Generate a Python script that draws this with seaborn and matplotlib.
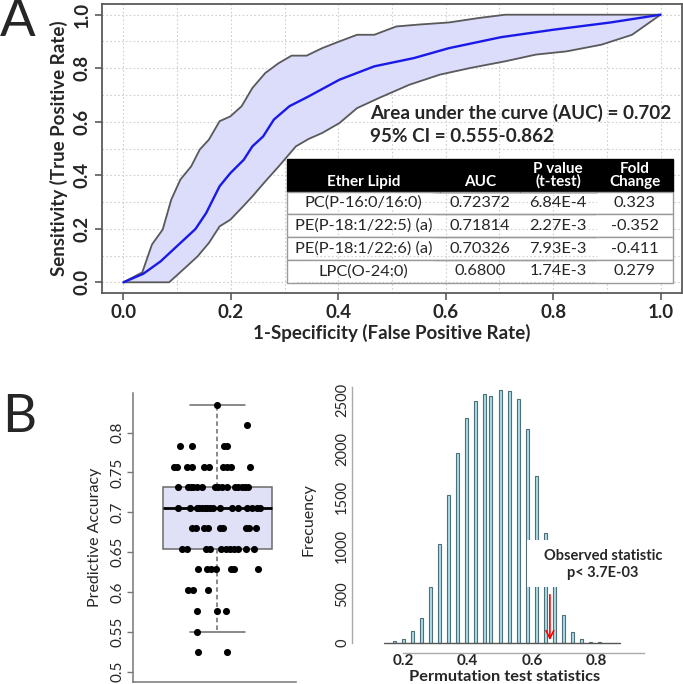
"""Figura ROC + boxplot de acurácia + histograma do teste de permutação."""
import matplotlib
matplotlib.use("Agg")
import matplotlib.pyplot as plt
from matplotlib.patches import Rectangle
import numpy as np
import seaborn as sns

# --- A: curva ROC média e intervalo de confiança ---
roc_fpr = [0, 0.037, 0.069, 0.106, 0.134, 0.154, 0.179, 0.199, 0.224, 0.240, 0.260,
           0.280, 0.309, 0.345, 0.402, 0.467, 0.541, 0.606, 0.703, 0.801, 0.907, 1.0]
roc_tpr = [0, 0.032, 0.078, 0.147, 0.199, 0.259, 0.359, 0.408, 0.458, 0.508, 0.545,
           0.608, 0.658, 0.695, 0.757, 0.807, 0.838, 0.875, 0.916, 0.944, 0.971, 1.0]
ci_hi_fpr = [0, 0.035, 0.053, 0.073, 0.089, 0.106, 0.126, 0.142, 0.159, 0.179, 0.199,
             0.220, 0.240, 0.264, 0.289, 0.313, 0.341, 0.370, 0.402, 0.435, 0.467,
             0.508, 0.549, 0.606, 0.663, 0.711, 1.0]
ci_hi_tpr = [0, 0.037, 0.141, 0.197, 0.309, 0.384, 0.433, 0.496, 0.533, 0.602, 0.620,
             0.658, 0.726, 0.782, 0.819, 0.847, 0.847, 0.875, 0.900, 0.925, 0.925,
             0.956, 0.963, 0.971, 0.988, 1.0, 1.0]
ci_lo_fpr = [0, 0.085, 0.118, 0.138, 0.159, 0.179, 0.199, 0.220, 0.240, 0.264, 0.289,
             0.321, 0.345, 0.370, 0.402, 0.435, 0.476, 0.532, 0.589, 0.646, 0.711,
             0.768, 0.825, 0.890, 0.947, 1.0]
ci_lo_tpr = [0, 0, 0.060, 0.097, 0.147, 0.209, 0.234, 0.278, 0.321, 0.377, 0.433,
             0.508, 0.536, 0.558, 0.595, 0.651, 0.689, 0.738, 0.776, 0.801, 0.826,
             0.851, 0.863, 0.888, 0.925, 1.0]

auc_texto = "Area under the curve (AUC) = 0.702"
ci_texto = "95% CI = 0.555-0.862"

tab_colunas = ["\nEther Lipid", "\nAUC", "P value\n(t-test)", "Fold\nChange"]
tab_lipidios = ["PC(P-16:0/16:0)", "PE(P-18:1/22:5) (a)", "PE(P-18:1/22:6) (a)", "LPC(O-24:0)"]
tab_auc = ["0.72372", "0.71814", "0.70326", "0.6800"]
tab_pvalor = ["6.84E-4", "2.27E-3", "7.93E-3", "1.74E-3"]
tab_fold = ["0.323", "-0.352", "-0.411", "0.279"]

# --- B esquerda: acurácia preditiva (nível -> deslocamentos horizontais dos pontos) ---
acc_niveis = [0.8348, 0.8097, 0.7833, 0.7569, 0.7318, 0.7059, 0.6800,
              0.6536, 0.6283, 0.6025, 0.5758, 0.5502, 0.5247]
acc_jitter = [
    [0.0],
    [0.219],
    [-0.275, -0.185, 0.048, 0.068],
    [-0.319, -0.295, -0.222, -0.189, -0.097, -0.060, 0.038, 0.072, 0.097, 0.239],
    [-0.288, -0.219, -0.197, -0.178, -0.153, -0.116, -0.018, 0.006, 0.031, 0.068,
     0.128, 0.153, 0.178, 0.202, 0.226],
    [-0.288, -0.202, -0.153, -0.134, -0.114, -0.094, -0.075, -0.055, -0.031, 0.018,
     0.104, 0.153, 0.214, 0.251, 0.288, 0.312],
    [-0.185, -0.160, -0.097, -0.072, 0.018, 0.038, 0.209, 0.233, 0.283],
    [-0.258, -0.226, -0.087, -0.055, 0.026, 0.062, 0.092, 0.121, 0.153, 0.209, 0.270],
    [-0.141, -0.075, -0.050, -0.013, 0.097, 0.121, 0.299],
    [-0.214, -0.178, -0.068],
    [-0.153, -0.006, 0.060],
    [-0.148],
    [-0.141, 0.072],
]

# --- B direita: distribuição do teste de permutação ---
perm_stat = [0.1734, 0.2014, 0.2293, 0.2572, 0.2861, 0.3140, 0.3419, 0.3698, 0.3978,
             0.4257, 0.4536, 0.4722, 0.5011, 0.5290, 0.5569, 0.5861, 0.6140, 0.6420,
             0.6699, 0.6978, 0.7257, 0.7536, 0.7816, 0.8095]
perm_freq = [17, 44, 127, 257, 576, 1015, 1520, 1955, 2312, 2490, 2559, 2538, 2600,
             2593, 2507, 2202, 1715, 1132, 620, 285, 113, 44, 7, 7]
obs_stat = 0.655

sns.set_theme(style="white")
plt.rcParams["font.family"] = ["Lato", "DejaVu Sans"]

CINZA = "#5a5a5a"

fig = plt.figure(figsize=(6.83, 6.84), dpi=100)
W, H = 683, 684


def eixo(x0, y0, x1, y1):
    return fig.add_axes([x0 / W, 1 - y1 / H, (x1 - x0) / W, (y1 - y0) / H])


# ---------------- Painel A ----------------
ax = eixo(102, 4, 682, 293)
ax.fill(np.r_[ci_hi_fpr, ci_lo_fpr[::-1]], np.r_[ci_hi_tpr, ci_lo_tpr[::-1]],
        color="#dcdcfb", zorder=1)
sns.lineplot(x=ci_hi_fpr, y=ci_hi_tpr, ax=ax, color=CINZA, lw=1.3, sort=False, zorder=2)
sns.lineplot(x=ci_lo_fpr, y=ci_lo_tpr, ax=ax, color=CINZA, lw=1.3, sort=False, zorder=2)
sns.lineplot(x=roc_fpr, y=roc_tpr, ax=ax, color="#1a1ae8", lw=1.7, sort=False, zorder=3)
ax.set_xlim(-0.04, 1.04)
ax.set_ylim(-0.04, 1.04)
ticks = np.arange(0, 1.01, 0.2)
ax.set_xticks(ticks)
ax.set_yticks(ticks)
ax.set_xticks(np.arange(0.1, 1.0, 0.2), minor=True)
ax.set_yticks(np.arange(0.1, 1.0, 0.2), minor=True)
ax.set_xticklabels([f"{t:.1f}" for t in ticks], fontsize=13.5, fontweight="bold")
ax.set_yticklabels([f"{t:.1f}" for t in ticks], fontsize=13.5, fontweight="bold",
                   rotation=90, va="center")
ax.grid(True, which="both", color="#d0d0d0", ls=(0, (1.5, 2)), lw=0.8)
ax.tick_params(which="major", length=5, width=1.2, color=CINZA, direction="out",
               bottom=True, left=True, pad=3)
ax.tick_params(which="minor", length=0)
for s in ax.spines.values():
    s.set_color(CINZA)
    s.set_linewidth(1.3)
ax.set_xlabel("1-Specificity (False Positive Rate)", fontsize=13.5, fontweight="bold",
              labelpad=2)
ax.set_ylabel("Sensitivity (True Positive Rate)", fontsize=13.5, fontweight="bold",
              labelpad=4)
ax.text(0.462, 0.623, auc_texto, transform=ax.transAxes, fontsize=13.6,
        fontweight="bold", va="center", ha="left")
ax.text(0.462, 0.540, ci_texto, transform=ax.transAxes, fontsize=13.6,
        fontweight="bold", va="center", ha="left")

linhas = [list(r) for r in zip(tab_lipidios, tab_auc, tab_pvalor, tab_fold)]
tab = ax.table(cellText=linhas, colLabels=tab_colunas, cellLoc="center",
               bbox=[0.319, 0.035, 0.665, 0.429])
tab.auto_set_font_size(False)
larguras = [0.396, 0.207, 0.2, 0.197]
for (r, c), cel in tab.get_celld().items():
    cel.set_width(larguras[c])
    cel.set_height(0.33 if r == 0 else 0.23)
    cel.set_edgecolor("#9a9a9a")
    cel.set_linewidth(1.0)
    if r == 0:
        cel.set_facecolor("black")
        cel.set_edgecolor("black")
        cel.get_text().set_color("white")
        cel.get_text().set_fontweight("bold")
        cel.get_text().set_fontsize(11)
        cel.get_text().set_linespacing(0.9)
    else:
        cel.set_facecolor("white")
        cel.get_text().set_fontsize(11.8)
        cel.visible_edges = "BTL" if c == 0 else ("BTR" if c == 3 else "BT")
tab.set_zorder(5)

fig.text(0.0 / W, 1 - 22 / H, "A", fontsize=38, va="center", ha="left")
fig.text(2.0 / W, 1 - 417 / H, "B", fontsize=38, va="center", ha="left")

# ---------------- Painel B: boxplot ----------------
acc_vals, acc_x = [], []
for nivel, js in zip(acc_niveis, acc_jitter):
    for j in js:
        acc_vals.append(nivel)
        acc_x.append(j)

axb = eixo(133, 393, 296, 682)
sns.boxplot(y=acc_vals, ax=axb, width=0.8, showfliers=False, whis=1.5,
            color="#dcdcfb", linecolor="#6a6a6a", linewidth=1.1,
            medianprops=dict(color="black", linewidth=2.0),
            whiskerprops=dict(linestyle=(0, (3, 2))))
sns.scatterplot(x=acc_x, y=acc_vals, ax=axb, color="black", s=26, linewidth=0,
                zorder=4)
axb.set_xlim(-0.620, 0.576)
axb.set_ylim(0.487, 0.8498)
yt = [0.5, 0.55, 0.6, 0.65, 0.7, 0.75, 0.8]
axb.set_yticks(yt)
axb.set_yticklabels([f"{v:g}" for v in yt], rotation=90, va="center", fontsize=11)
axb.set_xticks([])
axb.tick_params(axis="y", left=True, length=4, width=1, color="#777777", pad=2)
sns.despine(ax=axb)
for s in ("left", "bottom"):
    axb.spines[s].set_color("#777777")
    axb.spines[s].set_linewidth(1.1)
axb.set_ylabel("Predictive Accuracy", fontsize=11.5, labelpad=6)

# ---------------- Painel B: histograma ----------------
axh = eixo(352, 387, 683, 653)
sns.barplot(x=perm_stat, y=perm_freq, ax=axh, native_scale=True, width=0.5,
            color="#aadcea", edgecolor="#4f6f78", linewidth=0.8, errorbar=None,
            saturation=1)
axh.plot([0.140, 0.873], [0, 0], color="#555555", lw=1.0, zorder=3)
axh.set_xlim(0.041, 1.068)
axh.set_ylim(-103, 2634)
axh.set_xticks([0.2, 0.4, 0.6, 0.8])
axh.set_xticklabels(["0.2", "0.4", "0.6", "0.8"], fontsize=11, fontweight="bold")
axh.set_yticks([0, 500, 1000, 1500, 2000, 2500])
axh.set_yticklabels(["0", "500", "1000", "1500", "2000", "2500"], rotation=90,
                    va="center", fontsize=10.5)
axh.tick_params(axis="y", length=0, pad=2)
axh.tick_params(axis="x", length=0, pad=1)
sns.despine(ax=axh)
axh.spines["left"].set_bounds(0, 2634)
axh.spines["bottom"].set_bounds(0.2, 0.947)
for s in ("left", "bottom"):
    axh.spines[s].set_color("#aaaaaa")
    axh.spines[s].set_linewidth(1.0)
axh.set_xlabel("Permutation test statistics", fontsize=11.8, fontweight="bold")
axh.xaxis.set_label_coords(0.462, -0.063, transform=axh.transAxes)
axh.xaxis.label.set_va("top")
axh.set_ylabel("Frecuency", fontsize=11.5, labelpad=14)
axh.add_patch(Rectangle((0.584, 576), 0.44, 484, facecolor="white", edgecolor="none",
                        zorder=4, clip_on=False))
axh.text(0.82, 808, "Observed statistic\np< 3.7E-03", ha="center", va="center",
         fontsize=10.5, fontweight="bold", zorder=5, linespacing=1.3)
axh.annotate("", xy=(obs_stat, 0), xytext=(obs_stat, 525),
             arrowprops=dict(arrowstyle="->", color="red", lw=1.2, mutation_scale=14),
             zorder=6)

fig.savefig("out.png", dpi=100)
